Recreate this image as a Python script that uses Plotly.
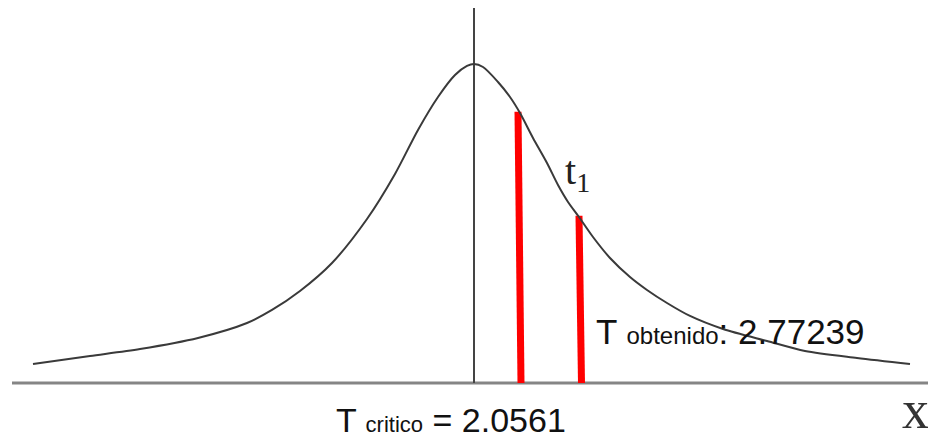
import plotly.graph_objects as go

# Density curve (x in t-units, y in density units)
curve_x = [-4.41, -3.84, -3.34, -2.76, -2.27, -2.02, -1.74, -1.42, -1.07, -0.79, -0.56,
           -0.36, -0.19, -0.07, 0.0, 0.09, 0.24, 0.36, 0.46, 0.59, 0.73, 0.84, 0.94,
           1.05, 1.19, 1.36, 1.56, 1.73, 1.93, 2.16, 2.49, 2.93, 3.31, 3.83, 4.36]
curve_y = [0.0238, 0.0338, 0.0425, 0.0563, 0.075, 0.0913, 0.115, 0.15, 0.205, 0.2613,
           0.3163, 0.3575, 0.385, 0.3963, 0.3988, 0.395, 0.3763, 0.3575, 0.3375, 0.3063,
           0.275, 0.2475, 0.2263, 0.2075, 0.1825, 0.1563, 0.1325, 0.1163, 0.1, 0.0838,
           0.0675, 0.0525, 0.04, 0.0313, 0.0238]

# Red marker lines (critical / obtained), bottom and top
red_names = ["T critico", "T obtenido"]
red_x_bottom = [0.47, 1.075]
red_x_top = [0.44, 1.05]
red_y_top = [0.339, 0.209]

# Axis lines
axis_x = [-4.62, 4.58]
axis_y = [0, 0]
center_x = [0, 0]
center_y = [0, 0.47]

# Texts
label_t1 = "t<sub>1</sub>"
label_obt = "T <span style='font-size:24px'>obtenido</span>: 2.77239"
label_crit = "T <span style='font-size:22px'>critico</span> = 2.0561"
label_x = "x"

fig = go.Figure()
fig.add_trace(go.Scatter(x=axis_x, y=axis_y, mode="lines",
                         line=dict(color="#858585", width=3), hoverinfo="skip"))
fig.add_trace(go.Scatter(x=center_x, y=center_y, mode="lines",
                         line=dict(color="#444444", width=2), hoverinfo="skip"))
for i, n in enumerate(red_names):
    fig.add_trace(go.Scatter(x=[red_x_bottom[i], red_x_top[i]], y=[0, red_y_top[i]],
                             mode="lines", name=n,
                             line=dict(color="#ff0000", width=7)))
fig.add_trace(go.Scatter(x=curve_x, y=curve_y, mode="lines", line_shape="spline",
                         line=dict(color="#3a3a3a", width=2, smoothing=0.8)))

fig.add_annotation(x=0.89, y=0.262, xref="x", yref="y", text=label_t1, showarrow=False,
                   xanchor="left", yanchor="middle",
                   font=dict(family="Liberation Serif", size=40, color="#222222"))
fig.add_annotation(x=1.20, y=0.065, xref="x", yref="y", text=label_obt, showarrow=False,
                   xanchor="left", yanchor="middle",
                   font=dict(family="Liberation Sans", size=35, color="#111111"))
fig.add_annotation(x=-1.40, y=-0.046, xref="x", yref="y", text=label_crit, showarrow=False,
                   xanchor="left", yanchor="middle",
                   font=dict(family="Liberation Sans", size=34, color="#111111"))
fig.add_annotation(x=4.41, y=-0.034, xref="x", yref="y", text=label_x, showarrow=False,
                   xanchor="center", yanchor="middle",
                   font=dict(family="Liberation Serif", size=54, color="#333333"))

# The page adds an 8px body margin, so the figure is sized to fit the window
fig.update_layout(width=928, height=428, margin=dict(l=0, r=0, t=0, b=0),
                  paper_bgcolor="white", plot_bgcolor="white", showlegend=False)
fig.update_xaxes(range=[-4.66, 4.62], visible=False)
fig.update_yaxes(range=[-0.06625, 0.46875], visible=False)

fig.write_html("out.html")
